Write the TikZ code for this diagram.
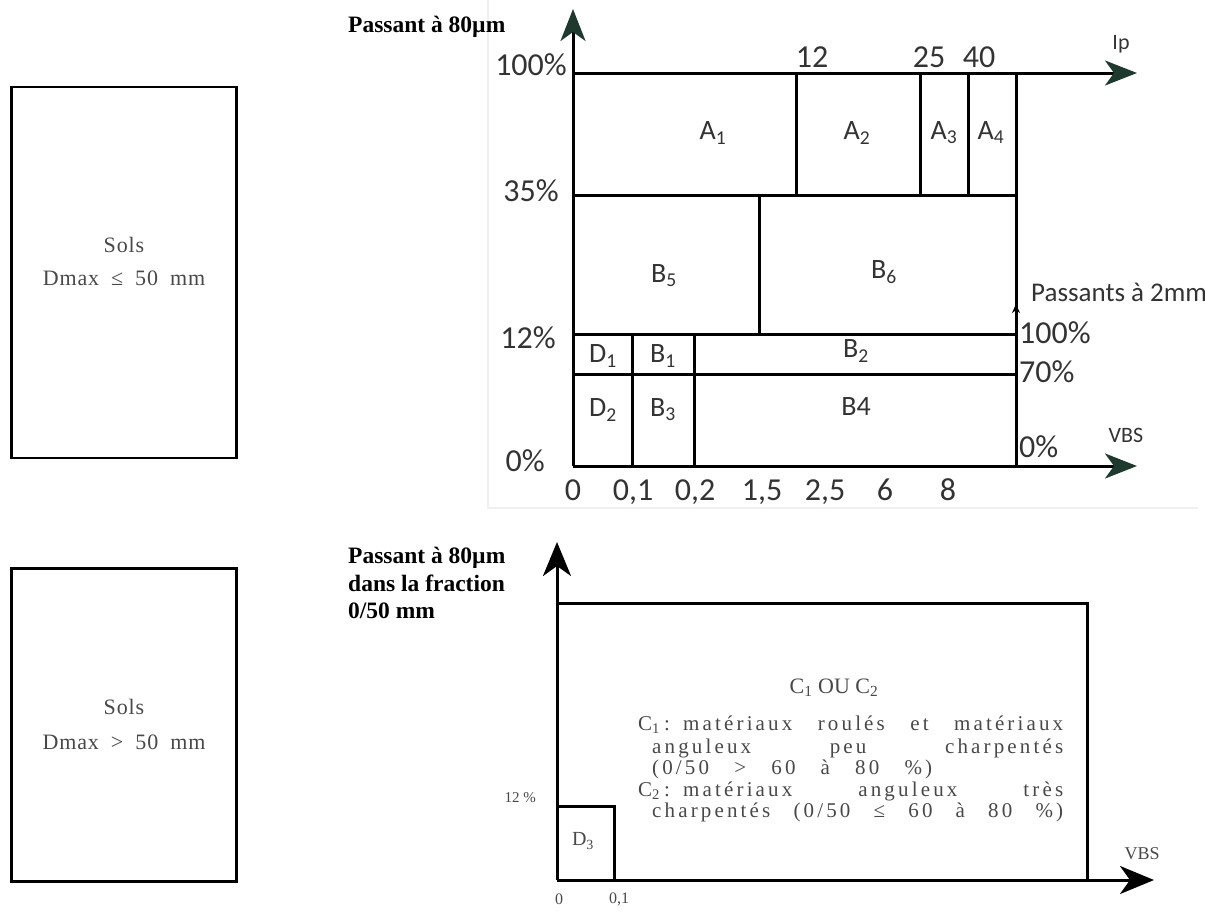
\documentclass[tikz,border=0pt]{standalone}
\usepackage{fontspec}
\setmainfont{Liberation Serif}
\newfontfamily\chartfont{Carlito}
\newfontfamily\wideserif[LetterSpace=15,WordSpace=3]{Liberation Serif}
\newfontfamily\solsfont[LetterSpace=4]{Liberation Serif}
\usetikzlibrary{arrows.meta}
\definecolor{arrowgreen}{HTML}{1E3A2E}
\definecolor{lblgray}{HTML}{333333}
\definecolor{txtgray}{HTML}{484848}
\newcommand{\lsub}[1]{\textsubscript{#1}}
\begin{document}
\begin{tikzpicture}[x=1pt,y=-1pt,
  ln/.style={line width=3pt, line cap=rect},
  garrow/.style={line width=3pt, -{Stealth[length=32pt,width=25pt,inset=9pt,color=arrowgreen]}},
  barrow/.style={line width=3pt, -{Stealth[length=34pt,width=28pt,inset=10pt]}},
  lbl/.style={font=\chartfont\fontsize{32}{32}\selectfont, text=lblgray, inner sep=0pt},
  reg/.style={font=\chartfont\fontsize{28}{28}\selectfont, text=lblgray, inner sep=0pt},
  axlbl/.style={font=\chartfont\fontsize{22}{22}\selectfont, text=lblgray, inner sep=0pt},
  title/.style={font=\bfseries\fontsize{23.5}{27.5}\selectfont, inner sep=0pt, anchor=base west},
  sbox/.style={draw, line width=2.5pt, minimum width=225pt, inner sep=0pt},
  sols/.style={font=\solsfont\fontsize{22}{22}\selectfont, text=txtgray, inner sep=0pt},
  para/.style={font=\wideserif\fontsize{21}{21}\selectfont, text=txtgray, inner sep=0pt, anchor=west, text height=14pt, text depth=4pt},
  small/.style={font=\fontsize{16}{16}\selectfont, text=txtgray, inner sep=0pt}
]
\useasboundingbox (0,0) rectangle (1205,911);

% ---------- left boxes ----------
\node[sbox, minimum height=371pt] (boxA) at (124,272.5) {};
\node[sols] (solsA) at (124,245) {Sols};
\node[sols] (dmaxA) at (124,278) {Dmax\hspace{12pt}≤\hspace{12pt}50\hspace{12pt}mm};
\node[sbox, minimum height=313pt] (boxB) at (124,725) {};
\node[sols] (solsB) at (124,707) {Sols};
\node[sols] (dmaxB) at (124,742) {Dmax\hspace{12pt}>\hspace{12pt}50\hspace{12pt}mm};

% ---------- top chart ----------
\draw[gray!12, line width=2pt] (488,0) -- (488,508) -- (1198,508);
\node[title] (ttop) at (348,32) {Passant à 80µm};

\draw[garrow] (573,466) -- (573,9);
\draw[garrow] (573,73) -- (1137,73);
\draw[garrow] (573,466) -- (1137,466);
\draw[ln] (1016,73) -- (1016,466);
\draw[ln] (573,195) -- (1016,195);
\draw[ln] (796,73) -- (796,195);
\draw[ln] (920,73) -- (920,195);
\draw[ln] (968,73) -- (968,195);
\draw[ln] (759,195) -- (759,334);
\draw[ln] (573,334) -- (1016,334);
\draw[ln] (573,374) -- (1016,374);
\draw[ln] (632,334) -- (632,466);
\draw[ln] (694,334) -- (694,466);
\draw[line width=2pt, -{Stealth[length=9pt,width=8pt]}] (1016,325) -- (1016,304);

\node[lbl, anchor=east] (l100) at (567,65) {100\%};
\node[lbl, anchor=east] (l35) at (559,191) {35\%};
\node[lbl, anchor=east] (l12) at (556,338) {12\%};
\node[lbl, anchor=east] (l0) at (545,461) {0\%};
\node[lbl, anchor=west] (r100) at (1019,333) {100\%};
\node[lbl, anchor=west] (r70) at (1019,372) {70\%};
\node[lbl, anchor=west] (r0) at (1019,447) {0\%};
\node[lbl] (t12) at (812,57) {12};
\node[lbl] (t25) at (929,57) {25};
\node[lbl] (t40) at (979,57) {40};
\node[axlbl] (ip) at (1121,44) {Ip};
\node[axlbl] (vbs) at (1126,435) {VBS};
\node[axlbl, font=\chartfont\fontsize{27}{27}\selectfont, anchor=west] (pass2) at (1031,292) {Passants à 2mm};

\foreach \n/\xx/\t in {b0/573/0, b01/633/{0,1}, b02/695/{0,2}, b15/762/{1,5}, b25/825/{2,5}, b6/885/6, b8/948/8}
  \node[lbl, anchor=base] (\n) at (\xx,500) {\t};

\node[reg] (A1) at (713,133) {A\lsub{1}};
\node[reg] (A2) at (857,133) {A\lsub{2}};
\node[reg] (A3) at (944,133) {A\lsub{3}};
\node[reg] (A4) at (991,133) {A\lsub{4}};
\node[reg] (B5) at (664,276) {B\lsub{5}};
\node[reg] (B6) at (884,272) {B\lsub{6}};
\node[reg] (D1) at (603,356) {D\lsub{1}};
\node[reg] (B1) at (663,356) {B\lsub{1}};
\node[reg] (B2) at (856,351) {B\lsub{2}};
\node[reg] (D2) at (603,410) {D\lsub{2}};
\node[reg] (B3) at (663,410) {B\lsub{3}};
\node[reg] (B4) at (856,407) {B4};

% ---------- bottom chart ----------
\node[title] (tb1) at (348,563) {Passant à 80µm};
\node[title] (tb2) at (348,591) {dans la fraction};
\node[title] (tb3) at (348,618) {0/50 mm};

\draw[barrow] (557,880) -- (557,542);
\draw[barrow] (557,880) -- (1154,880);
\draw[ln] (557,603) -- (1087,603) -- (1087,880);
\draw[ln] (557,806) -- (614,806) -- (614,880);

\node[font=\fontsize{20}{20}\selectfont, text=txtgray, inner sep=0pt] (D3) at (583,841) {D\lsub{3}};
\node[small, font=\fontsize{15}{15}\selectfont, anchor=east] (p12) at (536,798) {12 \%};
\node[small] (z0) at (559,899) {0};
\node[small] (z01) at (619,899) {0,1};
\node[font=\fontsize{18}{18}\selectfont, text=txtgray, inner sep=0pt] (vbsb) at (1142,854) {VBS};

\node[font=\fontsize{22}{22}\selectfont, text=txtgray, inner sep=0pt] (c12) at (834,688) {C\lsub{1} OU C\lsub{2}};
\node[para, font=\fontsize{21}{21}\selectfont] (c1lab) at (638,725) {C\lsub{1}\hspace{4pt}:};
\node[para] (c1a) at (683,725) {\makebox[380pt][s]{matériaux roulés et matériaux}};
\node[para] (c1b) at (652,748) {\makebox[411pt][s]{anguleux peu charpentés}};
\node[para] (c1c) at (652,769) {(0/50 > 60 à 80 \%)};
\node[para, font=\fontsize{21}{21}\selectfont] (c2lab) at (638,791) {C\lsub{2}\hspace{4pt}:};
\node[para] (c2a) at (683,791) {\makebox[380pt][s]{matériaux anguleux très}};
\node[para] (c2b) at (652,812) {\makebox[411pt][s]{charpentés (0/50 ≤ 60 à 80 \%)}};
\end{tikzpicture}
\end{document}
